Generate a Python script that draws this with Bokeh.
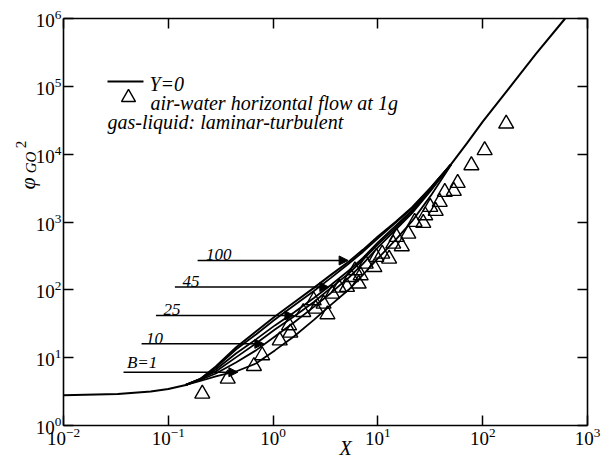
import math
from bokeh.plotting import figure
from bokeh.models import (Range1d, FixedTicker, LogAxis, LabelSet, Label, Arrow,
                          NormalHead, ColumnDataSource, LogTickFormatter)
from bokeh.embed import file_html
from bokeh.resources import INLINE
from bokeh.core.properties import value

# ---------------- data ----------------
x_ticks = [1e-2, 1e-1, 1e0, 1e1, 1e2, 1e3]
y_ticks = [1e0, 1e1, 1e2, 1e3, 1e4, 1e5, 1e6]
x_lim = (1e-2, 1e3)
y_lim = (1e0, 1e6)

# Y=0 curve
y0_x = [0.01, 0.033, 0.068, 0.10, 0.147, 0.202, 0.284, 0.442, 0.686, 1.04, 1.58,
        2.45, 3.56, 5.29, 7.19, 10.0, 14.9, 21.1, 32.1, 49.8, 70.6, 100.5, 178,
        322, 612]
y0_y = [2.80, 2.92, 3.17, 3.45, 3.96, 4.85, 7.42, 14.1, 24.3, 40.5, 65.2, 107,
        166, 262, 388, 613, 1020, 1641, 3240, 7080, 14400, 30500, 93500, 301000,
        1.0e6]

# B-curves (shared x)
b_x = [0.147, 0.202, 0.284, 0.442, 0.686, 1.04, 1.58, 2.45, 3.56, 5.29, 7.19,
       10.0, 14.9, 21.1, 32.1, 49.8]
b1_y = [3.96, 4.53, 5.28, 6.26, 8.21, 12.8, 20.5, 36.0, 59.9, 101, 166, 290,
        554, 1020, 2467, 6900]
b10_y = [3.96, 4.69, 5.85, 8.50, 12.8, 20.5, 33.0, 56.0, 90.0, 152, 241, 422,
         778, 1340, 2925, 7080]
b25_y = [3.96, 4.85, 6.26, 10.1, 16.2, 26.1, 40.5, 66.3, 107, 175, 276, 467,
         832, 1433, 3027, 7080]
b45_y = [3.96, 4.85, 6.70, 11.5, 18.6, 29.9, 46.4, 76.0, 118, 193, 295, 500,
         891, 1483, 3130, 7080]
b100_y = [3.96, 4.85, 7.17, 13.2, 22.0, 36.6, 58.9, 96.3, 150, 245, 362, 573,
          987, 1588, 3240, 7080]

# air-water horizontal flow at 1g
tri_x = [0.211, 0.369, 0.656, 0.787, 1.157, 1.459, 1.42, 1.94, 2.44, 2.55, 3.03,
         3.30, 3.66, 4.27, 5.07, 5.53, 6.03, 6.56, 6.85, 7.66, 9.25, 9.66, 11.0,
         12.8, 14.0, 15.1, 16.9, 19.5, 22.4, 27.1, 28.3, 31.6, 35.6, 38.9, 43.5,
         53.0, 57.7, 78.0, 104.4, 167.5]
tri_y = [2.93, 4.88, 7.50, 10.8, 17.9, 23.3, 29.9, 46.9, 69.8, 52.6, 62.3, 43.4,
         87.5, 107, 110, 154, 193, 123, 163, 242, 216, 304, 340, 287, 478, 600,
         437, 671, 998, 964, 1250, 1660, 1450, 1970, 2760, 2860, 3750, 6840,
         11400, 28100]

# B annotations
b_labels = ["B=1", "10", "25", "45", "100"]
arrow_y = [6.11, 16.0, 41.9, 110, 271]
arrow_x_start = [0.0374, 0.0556, 0.0762, 0.1156, 0.1905]
arrow_x_end = [0.461, 0.816, 1.58, 3.40, 5.20]
label_x = [0.0403, 0.0611, 0.0901, 0.1367, 0.2285]

legend_texts = ["Y=0", "air-water horizontal flow at 1g", "gas-liquid: laminar-turbulent"]

# ---------------- layout: axes box position on the 610x460 canvas ----------------
W, H = 610, 460
L, R, T, B = 63, 587, 18, 425
DX = (R - L) / math.log10(x_lim[1] / x_lim[0])
DY = (B - T) / math.log10(y_lim[1] / y_lim[0])


def dx(px):
    return x_lim[0] * 10 ** ((px - L) / DX)


def dy(py):
    return y_lim[0] * 10 ** ((B - py) / DY)


SERIF = "Liberation Serif"

# the frame fills the whole canvas; the axes are pinned to the box edges
p = figure(width=W, height=H, x_axis_type="log", y_axis_type="log",
           x_range=Range1d(dx(0), dx(W)), y_range=Range1d(dy(H), dy(0)),
           output_backend="svg", toolbar_location=None, min_border=0)
p.min_border_left = p.min_border_right = p.min_border_top = p.min_border_bottom = 0
if p.title is not None:
    p.title.visible = False
p.grid.visible = False
p.outline_line_color = None
p.background_fill_color = "white"
p.border_fill_color = "white"


def style(ax, ticks, bounds, loc, show):
    ax.ticker = FixedTicker(ticks=ticks)
    ax.formatter = LogTickFormatter()
    ax.bounds = bounds
    ax.fixed_location = loc
    ax.major_tick_in = 10
    ax.major_tick_out = 0
    ax.minor_tick_line_color = None
    ax.major_tick_line_width = 1.5
    ax.major_tick_line_color = "black"
    ax.axis_line_width = 1.6
    ax.axis_line_color = "black"
    if show:
        ax.major_label_text_font = SERIF
        ax.major_label_text_font_size = "19px"
        ax.major_label_text_color = "black"
        ax.major_label_standoff = 2
    else:
        ax.major_label_text_alpha = 0.0


style(p.xaxis[0], x_ticks, x_lim, y_lim[0], True)
style(p.yaxis[0], y_ticks, y_lim, x_lim[0], True)
ax_top = LogAxis()
style(ax_top, x_ticks, x_lim, y_lim[1], False)
p.add_layout(ax_top, "above")
ax_right = LogAxis()
style(ax_right, y_ticks, y_lim, x_lim[1], False)
p.add_layout(ax_right, "right")

# curves
p.line(y0_x, y0_y, line_color="black", line_width=2)
for ys in [b1_y, b10_y, b25_y, b45_y, b100_y]:
    p.line(b_x, ys, line_color="black", line_width=1.8)

# data points
p.scatter(tri_x, tri_y, marker="triangle", size=15, fill_color=None,
          line_color="black", line_width=1.4)

# arrows
asrc = ColumnDataSource(dict(xs=arrow_x_start, xe=arrow_x_end, y=arrow_y))
p.add_layout(Arrow(end=NormalHead(size=9, fill_color="black", line_color="black"),
                   x_start="xs", y_start="y", x_end="xe", y_end="y",
                   source=asrc, line_width=1.5, line_color="black"))
lsrc = ColumnDataSource(dict(x=label_x, y=arrow_y, t=b_labels))
p.add_layout(LabelSet(x="x", y="y", text="t", source=lsrc,
                      text_font=value(SERIF), text_font_style="italic",
                      text_font_size="17px", text_baseline="bottom",
                      text_color="black", y_offset=0))

# axis titles
p.add_layout(Label(x=dx(345), y=dy(447), text="X", text_font=SERIF,
                   text_font_style="italic", text_font_size="20px",
                   text_align="center", text_baseline="middle", text_color="black"))
p.add_layout(Label(x=dx(27), y=dy(183), text="φ", text_font=SERIF,
                   text_font_style="italic", text_font_size="22px", angle=math.pi / 2,
                   text_align="center", text_baseline="middle", text_color="black"))
p.add_layout(Label(x=dx(30), y=dy(162), text="GO", text_font=SERIF,
                   text_font_style="italic", text_font_size="15px", angle=math.pi / 2,
                   text_align="center", text_baseline="middle", text_color="black"))
p.add_layout(Label(x=dx(20), y=dy(144), text="2", text_font=SERIF,
                   text_font_size="15px", angle=math.pi / 2,
                   text_align="center", text_baseline="middle", text_color="black"))

# legend
p.line([dx(107), dx(143)], [dy(81), dy(81)], line_color="black", line_width=2)
p.scatter([dx(128)], [dy(97)], marker="triangle", size=14, fill_color=None,
          line_color="black", line_width=1.4)
for txt, px, py in zip(legend_texts, [149, 150, 107], [83, 102, 121]):
    p.add_layout(Label(x=dx(px), y=dy(py), text=txt, text_font=SERIF,
                       text_font_style="italic", text_font_size="20px",
                       text_align="left", text_baseline="middle", text_color="black"))

open("out.html", "w").write(file_html(p, INLINE))
